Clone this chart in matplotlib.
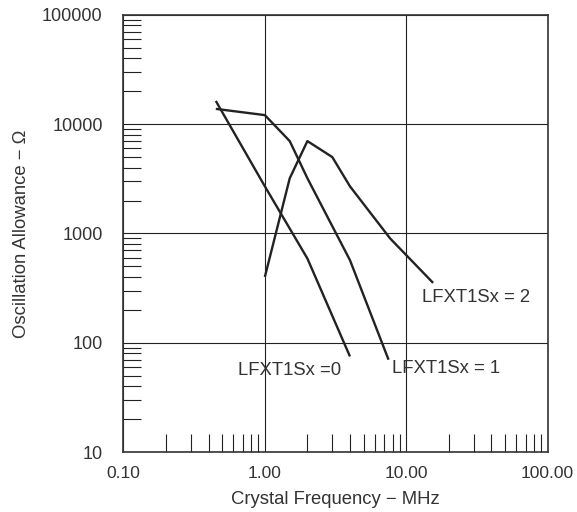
import matplotlib.pyplot as plt
from matplotlib.ticker import LogLocator, FixedLocator, FixedFormatter, NullFormatter

# Crystal frequency (MHz) vs oscillation allowance (Ohm)
f0 = [0.45, 1.0, 2.0, 4.0]
r0 = [16300, 2700, 590, 75]

f1 = [0.45, 1.0, 1.5, 2.0, 4.0, 7.5]
r1 = [13800, 12100, 7000, 3200, 570, 70]

f2 = [1.0, 1.5, 2.0, 3.0, 4.0, 7.7, 15.5]
r2 = [400, 3200, 7000, 5000, 2700, 900, 353]

xticks = [0.1, 1, 10, 100]
xlabels = ["0.10", "1.00", "10.00", "100.00"]
yticks = [10, 100, 1000, 10000, 100000]
ylabels = ["10", "100", "1000", "10000", "100000"]

curve_labels = ["LFXT1Sx =0", "LFXT1Sx = 1", "LFXT1Sx = 2"]
label_pos = [(0.648, 56), (7.9, 58), (12.9, 261)]

plt.rcParams['font.family'] = ['Liberation Sans', 'DejaVu Sans']
ink = '#222222'
txtc = '#333333'

fig = plt.figure(figsize=(5.77, 5.12), dpi=100)
ax = fig.add_axes([0.214, 0.117, 0.735, 0.854])

for f, r in [(f0, r0), (f1, r1), (f2, r2)]:
    ax.plot(f, r, color=ink, lw=1.7, solid_capstyle='butt')

for txt, (x, y) in zip(curve_labels, label_pos):
    ax.text(x, y, txt, fontsize=13.3, color=txtc, ha='left', va='center')

ax.set_xscale('log')
ax.set_yscale('log')
ax.set_xlim(0.1, 100)
ax.set_ylim(10, 100000)

ax.xaxis.set_major_locator(FixedLocator(xticks))
ax.xaxis.set_major_formatter(FixedFormatter(xlabels))
ax.yaxis.set_major_locator(FixedLocator(yticks))
ax.yaxis.set_major_formatter(FixedFormatter(ylabels))
ax.xaxis.set_minor_locator(LogLocator(base=10, subs=range(2, 10)))
ax.yaxis.set_minor_locator(LogLocator(base=10, subs=range(2, 10)))
ax.xaxis.set_minor_formatter(NullFormatter())
ax.yaxis.set_minor_formatter(NullFormatter())

ax.grid(True, which='major', color=ink, lw=0.8)
ax.tick_params(which='major', length=0, pad=10, labelsize=12.5, colors=txtc)
ax.tick_params(axis='y', which='major', pad=15, labelsize=13)
ax.tick_params(which='minor', direction='in', length=12.7, width=0.8, color=ink)

for s in ax.spines.values():
    s.set_linewidth(1.2)
    s.set_color(txtc)

ax.set_xlabel("Crystal Frequency − MHz", fontsize=13.3, color=txtc, labelpad=7)
ax.set_ylabel("Oscillation Allowance − Ω", fontsize=13.3, color=txtc, labelpad=9)

fig.savefig("out.png", dpi=100)
